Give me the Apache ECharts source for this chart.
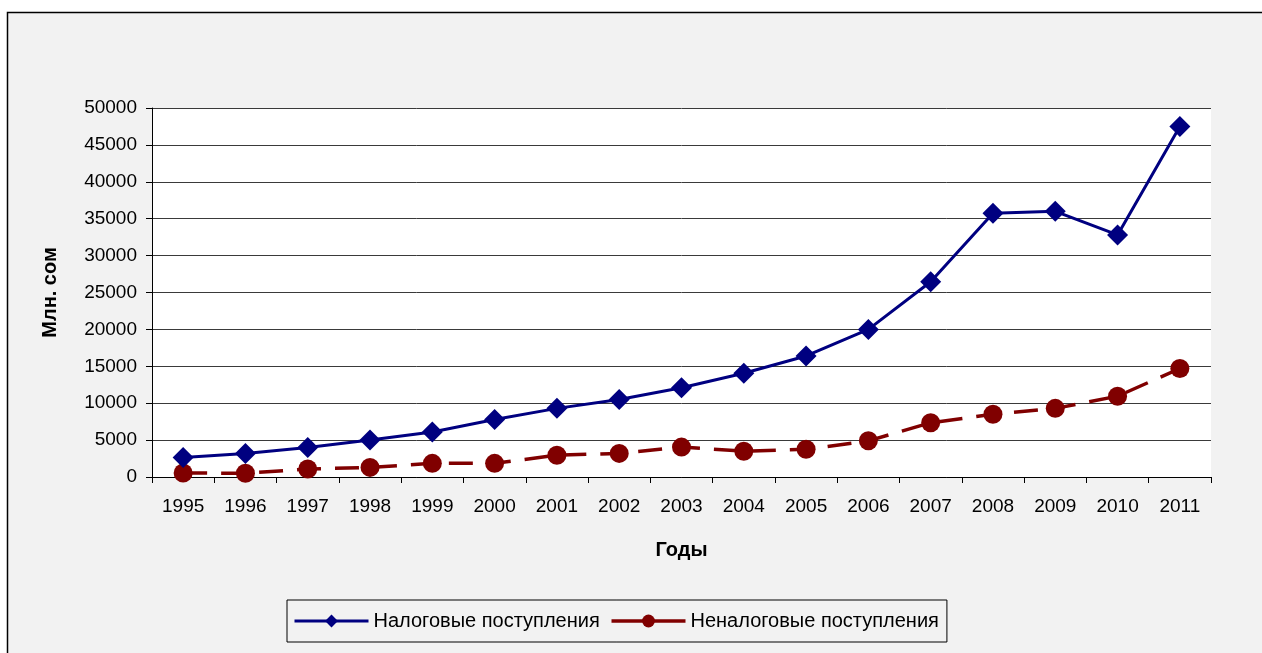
<!DOCTYPE html>
<html><head><meta charset="utf-8">
<script src="https://cdn.jsdelivr.net/npm/echarts@6/dist/echarts.min.js"></script>
<style>html,body{margin:0;padding:0;background:#fff}#c{width:1262px;height:653px}</style>
</head><body><div id="c"></div>
<script>
const years = ['1995','1996','1997','1998','1999','2000','2001','2002','2003','2004','2005','2006','2007','2008','2009','2010','2011'];
const taxRevenue = [2650, 3200, 4000, 5000, 6100, 7800, 9300, 10500, 12100, 14050, 16400, 20000, 26450, 35750, 36000, 32800, 47500];
const nonTaxRevenue = [550, 500, 1080, 1300, 1850, 1850, 2950, 3200, 4050, 3500, 3750, 4900, 7350, 8500, 9300, 10950, 14700];
const yTicks = [0, 5000, 10000, 15000, 20000, 25000, 30000, 35000, 40000, 45000, 50000];

const chart = echarts.init(document.getElementById('c'), null, {renderer: 'canvas'});
const font = 'Liberation Sans, Arial, sans-serif';
chart.setOption({
  backgroundColor: '#ffffff',
  animation: false,
  textStyle: {fontFamily: font, color: '#000'},
  graphic: [
    {type: 'rect', z: -10, shape: {x: 7.5, y: 12.5, width: 1300, height: 700},
     style: {fill: '#f2f2f2', stroke: '#000', lineWidth: 1.5}},
    {type: 'rect', z: -9, shape: {x: 152, y: 108, width: 1059, height: 369},
     style: {fill: '#ffffff'}}
  ],
  grid: {left: 152, right: 51, top: 108, bottom: 176, containLabel: false},
  legend: {
    left: 287, top: 600,
    padding: [11, 8, 11, 6],
    borderColor: '#000', borderWidth: 1, backgroundColor: '#f2f2f2',
    itemWidth: 74, itemHeight: 16, itemGap: 10,
    textStyle: {fontFamily: font, fontSize: 20, color: '#000'},
    data: [
      {name: 'Налоговые поступления', lineStyle: {width: 3, type: 'solid'}},
      {name: 'Неналоговые поступления', lineStyle: {width: 3.5, type: 'solid'}}
    ]
  },
  xAxis: {
    type: 'category', data: years, boundaryGap: true,
    name: 'Годы', nameLocation: 'middle', nameGap: 63,
    nameTextStyle: {fontFamily: font, fontSize: 20, fontWeight: 'bold', color: '#000'},
    axisLine: {lineStyle: {color: '#000', width: 1}},
    axisTick: {show: true, length: 6, inside: false, lineStyle: {color: '#000'}},
    axisLabel: {fontFamily: font, fontSize: 19, color: '#000', margin: 20, interval: 0},
    splitLine: {show: false}
  },
  yAxis: {
    type: 'value', min: 0, max: 50000, interval: 5000,
    name: 'Млн. сом', nameLocation: 'middle', nameGap: 92, nameRotate: 90,
    nameTextStyle: {fontFamily: font, fontSize: 20, fontWeight: 'bold', color: '#000'},
    axisLine: {show: true, lineStyle: {color: '#000', width: 1}},
    axisTick: {show: true, length: 6, lineStyle: {color: '#000'}},
    axisLabel: {fontFamily: font, fontSize: 19, color: '#000', margin: 15,
      formatter: v => yTicks.includes(v) ? String(v) : ''},
    splitLine: {show: true, lineStyle: {color: '#3a3a3a', width: 1}}
  },
  series: [
    {name: 'Налоговые поступления', type: 'line', data: taxRevenue,
     symbol: 'diamond', symbolSize: 21,
     lineStyle: {color: '#000080', width: 3},
     itemStyle: {color: '#000080'}, z: 3},
    {name: 'Неналоговые поступления', type: 'line', data: nonTaxRevenue,
     symbol: 'circle', symbolSize: 19,
     lineStyle: {color: '#800000', width: 3.5, type: [24, 14]},
     itemStyle: {color: '#800000'}, z: 2}
  ]
});
</script></body></html>
